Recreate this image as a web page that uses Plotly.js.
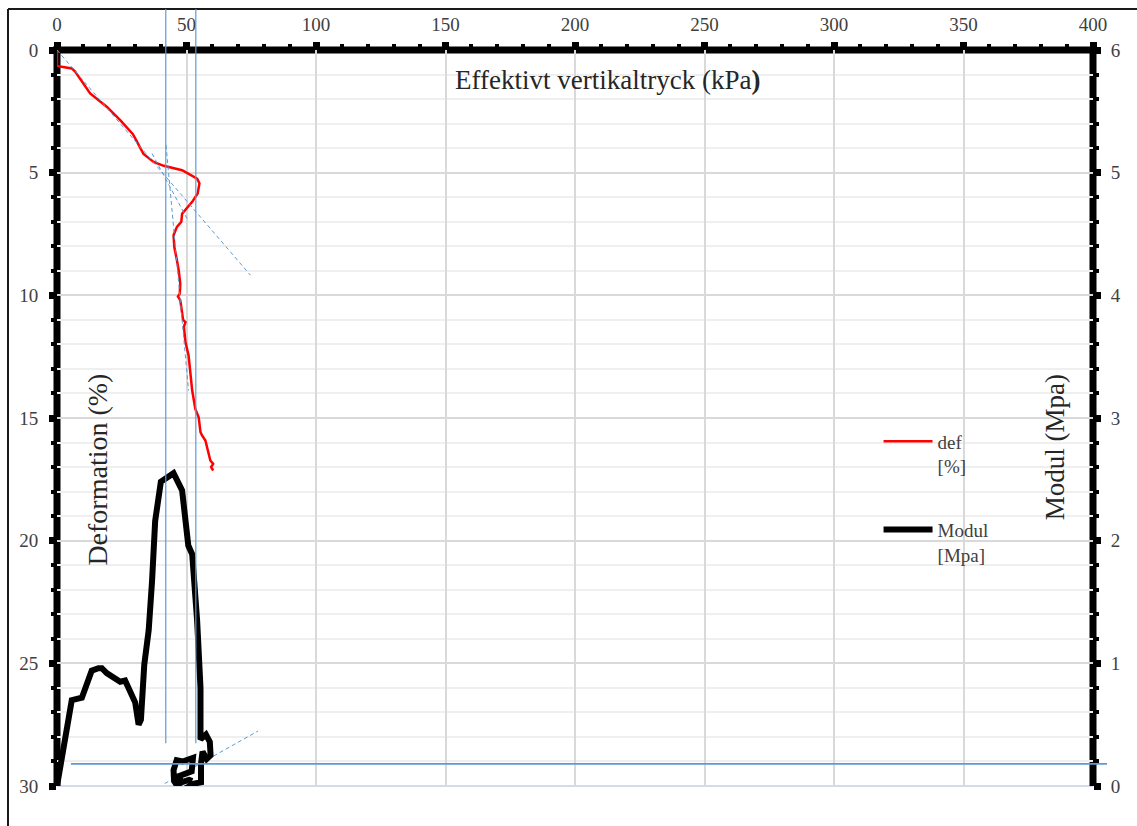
<!DOCTYPE html>
<html>
<head>
<meta charset="utf-8">
<script src="https://cdn.plot.ly/plotly-3.0.1.min.js"></script>
<style>
  html, body { margin: 0; padding: 0; background: #ffffff; }
  #chart { width: 1137px; height: 826px; }
</style>
</head>
<body>
<div id="chart"></div>
<script>
// Effective vertical stress (kPa) against deformation (%) and modulus (MPa)
const defPressure = [0, 0, 5.7, 7.0, 12.8, 19.2, 24.4, 29.3, 30.2, 32.1, 33.4, 37.3, 41.2, 48.3, 54.1, 55.0, 54.3, 52.2, 50.2, 48.3, 48.0, 46.3, 45.0, 45.3, 46.3, 47.0, 47.6, 47.4, 46.7, 47.6, 48.7, 49.6, 49.0, 49.6, 50.8, 51.2, 52.2, 53.4, 54.7, 55.4, 56.0, 57.3, 58.6, 59.2, 60.3, 59.5, 60.3];
const defValue    = [0, 0.65, 0.75, 0.88, 1.77, 2.31, 2.86, 3.43, 3.60, 3.95, 4.24, 4.56, 4.72, 4.90, 5.24, 5.44, 5.85, 6.19, 6.46, 6.67, 7.00, 7.21, 7.55, 8.03, 8.57, 8.98, 9.52, 9.93, 10.05, 10.20, 11.00, 11.09, 11.29, 11.90, 12.45, 12.93, 13.88, 14.63, 14.97, 15.58, 15.71, 15.92, 16.40, 16.73, 16.87, 17.00, 17.14];

const modPressure = [0, 5.7, 9.6, 11.5, 13.4, 16.0, 17.3, 19.2, 22.5, 24.4, 26.3, 27.6, 28.9, 30.2, 31.5, 32.4, 33.7, 35.4, 36.7, 37.9, 40.1, 42.5, 45.0, 48.3, 50.2, 50.7, 52.2, 54.1, 55.4,
  55.4, 57.5, 59.0, 59.3, 57.8, 56.2, 55.6, 55.6, 53.0, 50.5, 48.5, 46.5, 45.2, 45.0, 46.2, 48.5, 51.0, 52.5, 52.0, 49.5, 47.0, 48.0, 51.0, 52.2];
const modValue    = [0, 0.70, 0.72, 0.83, 0.94, 0.96, 0.96, 0.92, 0.88, 0.85, 0.86, 0.80, 0.72, 0.68, 0.50, 0.54, 0.99, 1.27, 1.67, 2.16, 2.48, 2.52, 2.55, 2.41, 2.11, 1.96, 1.89, 1.35, 0.80,
  0.38, 0.42, 0.36, 0.25, 0.22, 0.28, 0.18, 0.03, 0.02, -0.01, -0.03, 0.00, 0.04, 0.13, 0.21, 0.20, 0.22, 0.23, 0.12, 0.10, 0.08, 0.03, 0.05, 0.04];

// Construction lines (tangents and read-off levels)
const tangentA_x = [0, 74.7],   tangentA_y = [0, 9.18];
const tangentB_x = [36.7, 50.2], tangentB_y = [4.22, 6.87];
const tangentC_x = [42.1, 50.8], tangentC_y = [3.88, 13.88];
const tangentD_x = [41.6, 77.6], tangentD_y = [29.9, 27.76];
const guidePressures = [42.0, 53.6];
const guideDeformation = 29.1;

const xTicks = [0, 50, 100, 150, 200, 250, 300, 350, 400];
const defTicks = [0, 5, 10, 15, 20, 25, 30];
const modTicks = [0, 1, 2, 3, 4, 5, 6];

const serif = '"Liberation Serif", "Times New Roman", serif';
const labelColor = '#404040';
const guideBlue = '#5b9bd5';

const dashTrace = (xs, ys) => ({
  x: xs, y: ys, xaxis: 'x', yaxis: 'y', mode: 'lines', type: 'scatter',
  line: { color: guideBlue, width: 1, dash: '4px,3px' },
  showlegend: false, hoverinfo: 'skip'
});

const traces = [
  {
    x: defPressure, y: defValue, xaxis: 'x', yaxis: 'y',
    type: 'scatter', mode: 'lines', name: 'def<br>[%]',
    line: { color: '#ff0000', width: 2.5 }, legend: 'legend'
  },
  {
    x: modPressure, y: modValue, xaxis: 'x', yaxis: 'y2',
    type: 'scatter', mode: 'lines', name: 'Modul<br>[Mpa]',
    line: { color: '#000000', width: 6 }, legend: 'legend2'
  },
  dashTrace(tangentA_x, tangentA_y),
  dashTrace(tangentB_x, tangentB_y),
  dashTrace(tangentC_x, tangentC_y),
  dashTrace(tangentD_x, tangentD_y)
];

const tickFont = () => ({ family: serif, size: 19, color: labelColor });

const shapes = [];
// outer frame (top and left edges)
shapes.push({ type: 'line', xref: 'paper', yref: 'paper', x0: -0.0473, x1: 1.2, y0: 1.0557, y1: 1.0557, line: { color: '#1a1a1a', width: 2 }, layer: 'below' });
shapes.push({ type: 'line', xref: 'paper', yref: 'paper', x0: -0.0473, x1: -0.0473, y0: -0.2, y1: 1.0557, line: { color: '#1a1a1a', width: 2 }, layer: 'below' });
// bottom edge of the plotting area
shapes.push({ type: 'line', xref: 'paper', yref: 'paper', x0: 0, x1: 1, y0: 0, y1: 0, line: { color: '#d3dce8', width: 2 }, layer: 'between' });
// heavy axis lines, beneath the data curves
const axW = 7;
shapes.push({ type: 'line', xref: 'paper', yref: 'paper', x0: -0.004, x1: 1.004, y0: 1, y1: 1, line: { color: '#000', width: axW }, layer: 'between' });
shapes.push({ type: 'line', xref: 'paper', yref: 'paper', x0: 0, x1: 0, y0: 0, y1: 1.004, line: { color: '#000', width: axW }, layer: 'between' });
shapes.push({ type: 'line', xref: 'paper', yref: 'paper', x0: 1, x1: 1, y0: 0, y1: 1.004, line: { color: '#000', width: axW }, layer: 'between' });
// vertical read-off lines
guidePressures.forEach(p => {
  shapes.push({ type: 'line', xref: 'x', yref: 'paper', x0: p, x1: p, y0: 0.058, y1: 1.0557, line: { color: guideBlue, width: 1.2 }, layer: 'above' });
});
// horizontal read-off line
shapes.push({ type: 'line', xref: 'paper', yref: 'y', x0: 0.0135, x1: 1.0135, y0: guideDeformation, y1: guideDeformation, line: { color: guideBlue, width: 1.8 }, layer: 'above' });

const layout = {
  width: 1137, height: 826,
  margin: { l: 57, r: 44, t: 50, b: 40, pad: 0 },
  paper_bgcolor: '#ffffff',
  plot_bgcolor: 'rgba(0,0,0,0)',
  font: { family: serif, color: labelColor },
  xaxis: {
    side: 'top', range: [0, 400], tickvals: xTicks, ticktext: xTicks.map(String),
    showline: false, zeroline: false,
    showgrid: true, gridcolor: '#d9d9d9', gridwidth: 1.5,
    ticks: 'outside', ticklen: 7, tickwidth: 7, tickcolor: '#000',
    ticklabelstandoff: 3,
    minor: { dtick: 10, ticks: 'outside', ticklen: 5, tickwidth: 4, tickcolor: '#000', showgrid: false },
    tickfont: tickFont(), fixedrange: true
  },
  yaxis: {
    range: [30, 0], tickvals: defTicks, ticktext: defTicks.map(String),
    showline: false, zeroline: false,
    showgrid: true, gridcolor: '#d9d9d9', gridwidth: 1.5,
    ticks: 'outside', ticklen: 7, tickwidth: 7, tickcolor: '#000',
    ticklabelstandoff: 7,
    minor: { dtick: 1, ticks: 'outside', ticklen: 5, tickwidth: 4, tickcolor: '#000', showgrid: true, gridcolor: '#efefef', gridwidth: 1.5 },
    tickfont: tickFont(), fixedrange: true
  },
  yaxis2: {
    overlaying: 'y', side: 'right', range: [0, 6], tickvals: modTicks, ticktext: modTicks.map(String),
    showline: false, zeroline: false, showgrid: false,
    ticks: 'outside', ticklen: 7, tickwidth: 7, tickcolor: '#000',
    ticklabelstandoff: 6,
    minor: { dtick: 0.2, ticks: 'outside', ticklen: 5, tickwidth: 4, tickcolor: '#000', showgrid: false },
    tickfont: tickFont(), fixedrange: true
  },
  legend: {
    x: 0.793, y: 0.494, xanchor: 'left', yanchor: 'top', itemwidth: 49,
    bgcolor: 'rgba(0,0,0,0)', borderwidth: 0, valign: 'top',
    font: { family: serif, size: 19, color: labelColor }
  },
  legend2: {
    x: 0.793, y: 0.374, xanchor: 'left', yanchor: 'top', itemwidth: 49,
    bgcolor: 'rgba(0,0,0,0)', borderwidth: 0, valign: 'top',
    font: { family: serif, size: 19, color: labelColor }
  },
  shapes: shapes,
  annotations: [
    { text: 'Effektivt vertikaltryck (kPa<b>)</b>', xref: 'paper', yref: 'paper', x: 0.531, y: 0.959,
      xanchor: 'center', yanchor: 'middle', showarrow: false,
      font: { family: serif, size: 27, color: '#262626' } },
    { text: 'Deformation (%)', xref: 'paper', yref: 'paper', x: 0.0387, y: 0.43, textangle: -90,
      xanchor: 'center', yanchor: 'middle', showarrow: false,
      font: { family: serif, size: 28, color: '#262626' } },
    { text: 'Modul (Mpa)', xref: 'paper', yref: 'paper', x: 0.964, y: 0.46, textangle: -90,
      xanchor: 'center', yanchor: 'middle', showarrow: false,
      font: { family: serif, size: 27, color: '#262626' } }
  ]
};

Plotly.newPlot('chart', traces, layout, { displayModeBar: false, responsive: false });
</script>
</body>
</html>
